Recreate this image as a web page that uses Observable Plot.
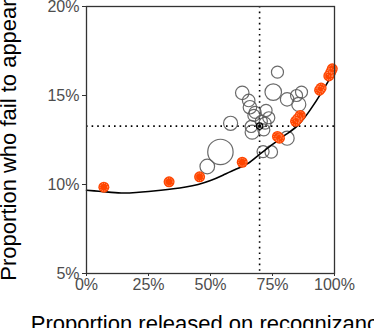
<!DOCTYPE html>
<html>
<head>
<meta charset="utf-8">
<script src="https://cdn.jsdelivr.net/npm/d3@7"></script>
<script src="https://cdn.jsdelivr.net/npm/@observablehq/plot@0.6"></script>
<style>
  html, body { margin: 0; padding: 0; overflow: hidden; background: white; }
  #chart svg { display: block; overflow: hidden; }
</style>
</head>
<body>
<div id="chart"></div>
<script>
// Axis titles and ticks
const xTitle = "Proportion released on recognizance";
const yTitle = "Proportion who fail to appear";
const xTicks = [0, 25, 50, 75, 100];
const yTicks = [5, 10, 15, 20];

// Reference (mean) lines
const meanX = 69.8;
const meanY = 13.28;

// Gray open circles: x (%), y (%), n (size)
const grayX = [77.0, 62.8, 75.3, 65.4, 65.9, 80.9, 84.7, 86.7, 85.6, 72.4, 73.5, 67.5, 58.1, 66.4, 66.8, 71.5, 80.9, 54.0, 48.7, 71.2, 74.5, 68.0, 70.5, 72.0];
const grayY = [16.31, 15.15, 15.19, 14.72, 14.34, 14.78, 15.00, 15.19, 14.50, 14.16, 13.75, 13.88, 13.44, 13.26, 12.94, 13.07, 12.60, 11.83, 11.01, 11.85, 11.83, 14.05, 13.55, 13.45];
const grayN = [36, 45, 68, 39, 45, 45, 36, 36, 49, 36, 36, 36, 49, 36, 49, 36, 49, 160, 53, 36, 39, 36, 36, 36];

// Orange points: x (%), y (%)
const orangeX = [7.0, 33.3, 45.6, 62.8, 77.0, 77.8, 84.3, 85.2, 86.2, 94.0, 94.6, 97.7, 98.5, 99.1];
const orangeY = [9.85, 10.15, 10.43, 11.25, 12.70, 12.60, 13.55, 13.70, 13.88, 15.30, 15.42, 16.10, 16.30, 16.50];

// Fitted curve
const fitX = [0, 5, 10, 15, 20, 25, 30, 35, 40, 45, 50, 55, 60, 65, 70, 75, 80, 85, 90, 95, 100];
const fitY = [9.68, 9.62, 9.56, 9.52, 9.55, 9.61, 9.68, 9.76, 9.86, 10.0, 10.22, 10.52, 10.84, 11.17, 11.72, 12.25, 12.77, 13.29, 14.15, 15.22, 16.4];

const gray = grayX.map((x, i) => ({x, y: grayY[i], n: grayN[i]}));
const orange = orangeX.map((x, i) => ({x, y: orangeY[i]}));
const fit = fitX.map((x, i) => ({x, y: fitY[i]}));

const font = "'Liberation Sans', Arial, Helvetica, sans-serif";

const chart = Plot.plot({
  width: 374,
  height: 328,
  marginLeft: 86,
  marginRight: 40,
  marginTop: 6,
  marginBottom: 55,
  style: {fontFamily: font, background: "white"},
  x: {domain: [0, 100]},
  y: {domain: [5, 20]},
  r: {type: "sqrt", domain: [0, 160], range: [0, 12.7]},
  marks: [
    Plot.ruleX([meanX], {stroke: "black", strokeWidth: 1.6, strokeDasharray: "1.6,4"}),
    Plot.ruleY([meanY], {stroke: "black", strokeWidth: 1.6, strokeDasharray: "1.6,4"}),
    Plot.dot(gray, {x: "x", y: "y", r: "n", fill: "none", stroke: "#5a5a5a", strokeWidth: 1.2, strokeOpacity: 0.9}),
    Plot.line(fit, {x: "x", y: "y", curve: "natural", stroke: "black", strokeWidth: 1.6}),
    Plot.dot([{x: meanX, y: meanY}], {x: "x", y: "y", r: 3.2, fill: "none", stroke: "black", strokeWidth: 1.2}),
    Plot.dot([{x: meanX, y: meanY}], {x: "x", y: "y", r: 1.6, fill: "black"}),
    Plot.dot(orange, {x: "x", y: "y", r: 5.5, fill: "#FF4500", stroke: "none"}),
    Plot.dot(orange, {x: "x", y: "y", r: 3.8, fill: "none", stroke: "#ffb38f", strokeWidth: 0.8, strokeDasharray: "1,1.2"}),
    Plot.frame({stroke: "#333", strokeWidth: 1.3}),
    Plot.axisX({ticks: xTicks, tickFormat: d => d + "%", tickSize: 3, tickPadding: 2, fontSize: 16, stroke: "#333", fill: "#4d4d4d", label: null}),
    Plot.axisY({ticks: yTicks, tickFormat: d => d + "%", tickSize: 4, tickPadding: 3, fontSize: 16, stroke: "#333", fill: "#4d4d4d", label: null}),
    Plot.text([yTitle], {frameAnchor: "left", textAnchor: "middle", rotate: -90, dx: -77.3, fontSize: 22, fill: "black"}),
    Plot.text([xTitle], {frameAnchor: "bottom", textAnchor: "middle", dy: 57.4, fontSize: 22, fill: "black"})
  ]
});
document.getElementById("chart").appendChild(chart);
</script>
</body>
</html>
